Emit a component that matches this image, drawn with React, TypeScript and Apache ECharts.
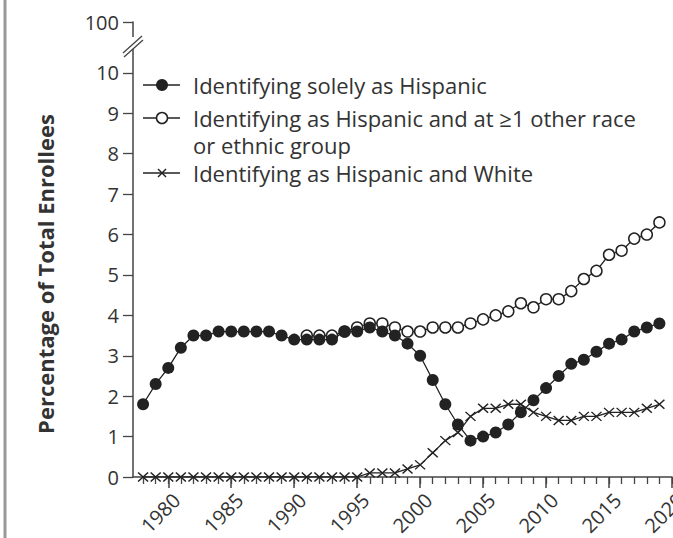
import React, { useEffect, useRef } from "react";
import * as echarts from "echarts";

const years = [
  1978, 1979, 1980, 1981, 1982, 1983, 1984, 1985, 1986, 1987,
  1988, 1989, 1990, 1991, 1992, 1993, 1994, 1995, 1996, 1997,
  1998, 1999, 2000, 2001, 2002, 2003, 2004, 2005, 2006, 2007,
  2008, 2009, 2010, 2011, 2012, 2013, 2014, 2015, 2016, 2017,
  2018, 2019,
];

const solelyHispanic = [
  1.8, 2.3, 2.7, 3.2, 3.5, 3.5, 3.6, 3.6, 3.6, 3.6,
  3.6, 3.5, 3.4, 3.4, 3.4, 3.4, 3.6, 3.6, 3.7, 3.6,
  3.5, 3.3, 3.0, 2.4, 1.8, 1.3, 0.9, 1.0, 1.1, 1.3,
  1.6, 1.9, 2.2, 2.5, 2.8, 2.9, 3.1, 3.3, 3.4, 3.6,
  3.7, 3.8,
];

const multiYears = [
  1991, 1992, 1993, 1994, 1995, 1996, 1997, 1998, 1999, 2000,
  2001, 2002, 2003, 2004, 2005, 2006, 2007, 2008, 2009, 2010,
  2011, 2012, 2013, 2014, 2015, 2016, 2017, 2018, 2019,
];
const hispanicOther = [
  3.5, 3.5, 3.5, 3.6, 3.7, 3.8, 3.8, 3.7, 3.6, 3.6,
  3.7, 3.7, 3.7, 3.8, 3.9, 4.0, 4.1, 4.3, 4.2, 4.4,
  4.4, 4.6, 4.9, 5.1, 5.5, 5.6, 5.9, 6.0, 6.3,
];

const hispanicWhite = [
  0, 0, 0, 0, 0, 0, 0, 0, 0, 0,
  0, 0, 0, 0, 0, 0, 0, 0, 0.1, 0.1,
  0.1, 0.2, 0.3, 0.6, 0.9, 1.1, 1.5, 1.7, 1.7, 1.8,
  1.8, 1.6, 1.5, 1.4, 1.4, 1.5, 1.5, 1.6, 1.6, 1.6,
  1.7, 1.8,
];

const yTickValues = [0, 1, 2, 3, 4, 5, 6, 7, 8, 9, 10];
const yTopTick = 11.26; // position standing for 100 above the break
const yTopLabel = "100";
const xMinorTicks = [
  1978, 1979, 1980, 1981, 1982, 1983, 1984, 1985, 1986, 1987,
  1988, 1989, 1990, 1991, 1992, 1993, 1994, 1995, 1996, 1997,
  1998, 1999, 2000, 2001, 2002, 2003, 2004, 2005, 2006, 2007,
  2008, 2009, 2010, 2011, 2012, 2013, 2014, 2015, 2016, 2017,
  2018, 2019, 2020,
];
const xMajorTicks = [1980, 1985, 1990, 1995, 2000, 2005, 2010, 2015, 2020];

const legendNames = [
  "Identifying solely as Hispanic",
  "Identifying as Hispanic and at \u22651 other race",
  "or ethnic group",
  "Identifying as Hispanic and White",
];
const yAxisTitle = "Percentage of Total Enrollees";

const FONT = "'Open Sans', 'Noto Sans', sans-serif";
const INK = "#222";
const TXT = "#333";
const AXC = "#444";

export default function App() {
  const ref = useRef<HTMLDivElement>(null);
  useEffect(() => {
    if (!ref.current) return;
    const chart = echarts.init(ref.current, undefined, { renderer: "svg" });
    const crossSymbol = "path://M0,0L10,9M10,0L0,9";
    const option: any = {
      animation: false,
      backgroundColor: "#fff",
      grid: {
        left: 133,
        right: 1,
        top: 22,
        bottom: 61,
        containLabel: false,
        outerBoundsMode: "none",
      },
      xAxis: [
        {
          type: "value",
          min: 1977.2,
          max: 2020,
          axisLine: { show: true, lineStyle: { color: AXC, width: 1.5 } },
          axisTick: {
            show: true,
            customValues: xMinorTicks,
            length: 7,
            lineStyle: { color: AXC, width: 1.3 },
          },
          axisLabel: {
            customValues: xMajorTicks,
            rotate: 45,
            align: "center",
            verticalAlign: "middle",
            padding: [0, 22, 0, 0],
            margin: 28,
            fontSize: 20,
            fontFamily: FONT,
            color: TXT,
            hideOverlap: false,
            formatter: (v: number) => String(v),
          },
          splitLine: { show: false },
        },
        {
          type: "value",
          min: 1977.2,
          max: 2020,
          position: "bottom",
          axisLine: { show: false },
          axisTick: {
            show: true,
            customValues: xMajorTicks,
            length: 11,
            lineStyle: { color: AXC, width: 1.5 },
          },
          axisLabel: { show: false },
          splitLine: { show: false },
        },
      ],
      yAxis: {
        type: "value",
        min: 0,
        max: yTopTick,
        axisLine: { show: true, lineStyle: { color: AXC, width: 1.5 } },
        axisTick: {
          show: true,
          customValues: [...yTickValues, yTopTick],
          length: 10,
          lineStyle: { color: AXC, width: 1.3 },
        },
        axisLabel: {
          customValues: [...yTickValues, yTopTick],
          margin: 14,
          fontSize: 20,
          fontFamily: FONT,
          color: TXT,
          formatter: (v: number) => (v > 10.5 ? yTopLabel : String(v)),
        },
        splitLine: { show: false },
      },
      series: [
        {
          name: "other",
          type: "line",
          data: multiYears.map((y, i) => [y, hispanicOther[i]]),
          symbol: "circle",
          symbolSize: 11,
          lineStyle: { color: INK, width: 1.3 },
          itemStyle: { color: "#fff", borderColor: INK, borderWidth: 1.5 },
          z: 2,
        },
        {
          name: "white",
          type: "line",
          data: years.map((y, i) => [y, hispanicWhite[i]]),
          symbol: crossSymbol,
          symbolSize: [10, 9],
          lineStyle: { color: INK, width: 1.3 },
          itemStyle: { color: "none", borderColor: INK, borderWidth: 1.4 },
          z: 3,
        },
        {
          name: "solely",
          type: "line",
          data: years.map((y, i) => [y, solelyHispanic[i]]),
          symbol: "circle",
          symbolSize: 12,
          lineStyle: { color: INK, width: 1.3 },
          itemStyle: { color: INK, borderColor: INK, borderWidth: 0 },
          z: 4,
        },
      ],
    };
    chart.setOption(option);

    const axX = chart.convertToPixel({ xAxisIndex: 0 }, 1977.2) as number;
    const y10 = chart.convertToPixel({ yAxisIndex: 0 }, 10) as number;
    const yTop = chart.convertToPixel({ yAxisIndex: 0 }, yTopTick) as number;
    const gapTop = yTop + 15;
    const gapBot = y10 - 24;
    const lgX1 = 143, lgX2 = 180, lgC = 162, txX = 193;
    const rows = [85, 118, 145, 173];
    const lineStyle = { stroke: INK, lineWidth: 1.5 };
    const textStyle = (t: string, yy: number) => ({
      type: "text",
      x: txX,
      y: yy,
      style: { text: t, fill: TXT, font: `22px ${FONT}`, verticalAlign: "middle", align: "left" },
      z: 10,
    });
    chart.setOption({
      graphic: [
        { type: "rect", shape: { x: 3.5, y: 0, width: 3, height: 538 }, style: { fill: "#999" }, z: 10 },
        {
          type: "text",
          x: 45,
          y: 274,
          rotation: Math.PI / 2,
          style: { text: yAxisTitle, fill: TXT, font: `bold 22px ${FONT}`, align: "center", verticalAlign: "middle" },
          z: 10,
        },
        { type: "rect", shape: { x: axX - 3, y: gapTop, width: 6, height: gapBot - gapTop }, style: { fill: "#fff" }, z: 20 },
        { type: "line", shape: { x1: axX - 10, y1: gapBot + 4, x2: axX + 9, y2: gapTop - 1 }, style: { stroke: AXC, lineWidth: 1.3 }, z: 21 },
        { type: "line", shape: { x1: axX - 9, y1: gapBot + 8, x2: axX + 10, y2: gapTop + 3 }, style: { stroke: AXC, lineWidth: 1.3 }, z: 21 },
        // legend
        { type: "line", shape: { x1: lgX1, y1: rows[0], x2: lgX2, y2: rows[0] }, style: lineStyle, z: 10 },
        { type: "circle", shape: { cx: lgC, cy: rows[0], r: 6 }, style: { fill: INK }, z: 11 },
        textStyle(legendNames[0], rows[0]),
        { type: "line", shape: { x1: lgX1, y1: rows[1], x2: lgX2, y2: rows[1] }, style: lineStyle, z: 10 },
        { type: "circle", shape: { cx: lgC, cy: rows[1], r: 5.5 }, style: { fill: "#fff", stroke: INK, lineWidth: 1.5 }, z: 11 },
        textStyle(legendNames[1], rows[1]),
        textStyle(legendNames[2], rows[2]),
        { type: "line", shape: { x1: lgX1, y1: rows[3], x2: lgX2, y2: rows[3] }, style: lineStyle, z: 10 },
        { type: "line", shape: { x1: lgC - 4, y1: rows[3] - 4, x2: lgC + 4, y2: rows[3] + 4 }, style: lineStyle, z: 11 },
        { type: "line", shape: { x1: lgC + 4, y1: rows[3] - 4, x2: lgC - 4, y2: rows[3] + 4 }, style: lineStyle, z: 11 },
        textStyle(legendNames[3], rows[3]),
      ],
    });
    return () => chart.dispose();
  }, []);
  return <div ref={ref} style={{ width: 673, height: 538, position: "absolute", left: 0, top: 0 }} />;
}
